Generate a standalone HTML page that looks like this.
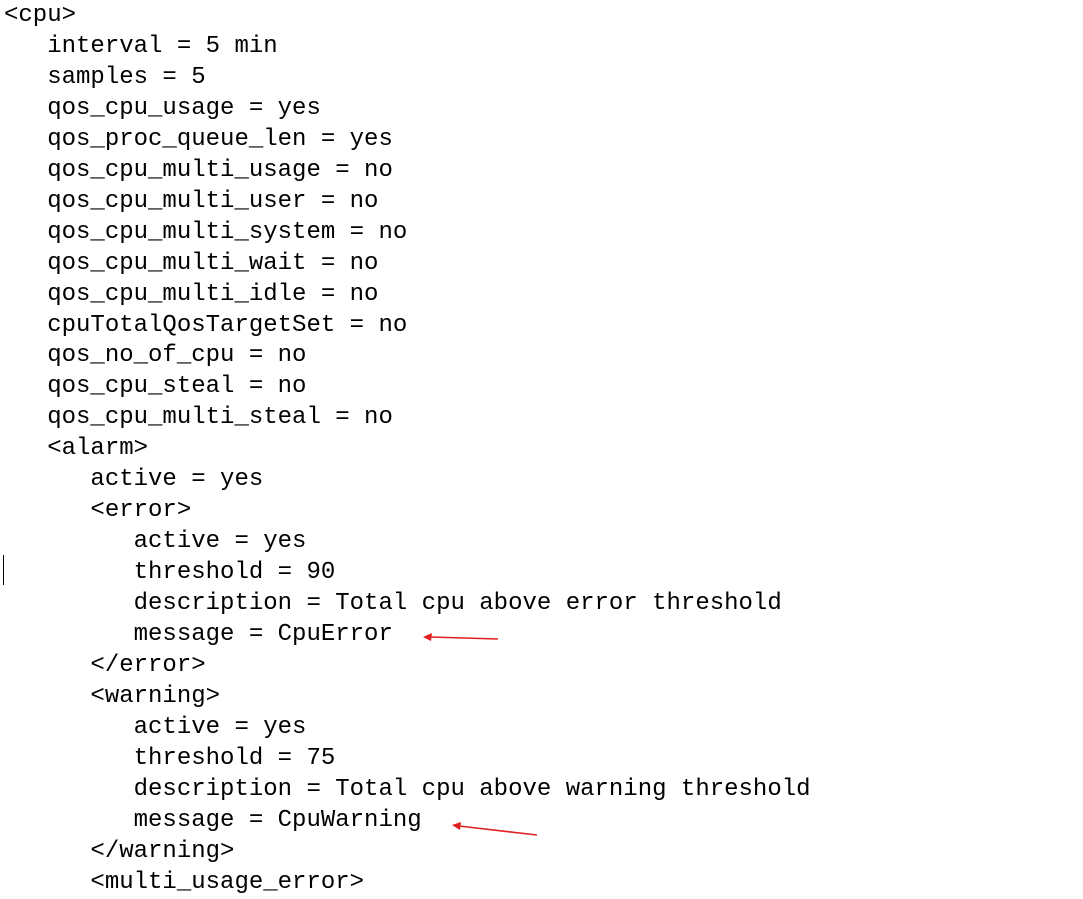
<!DOCTYPE html>
<html><head><style>
html,body{margin:0;padding:0;background:#fff;width:1083px;height:878px;overflow:hidden}
pre{position:absolute;left:4px;top:1px;margin:0;font-family:"Liberation Mono",monospace;font-size:24px;line-height:30.95px;color:#000}
</style></head><body>
<pre>&lt;cpu&gt;
   interval = 5 min
   samples = 5
   qos_cpu_usage = yes
   qos_proc_queue_len = yes
   qos_cpu_multi_usage = no
   qos_cpu_multi_user = no
   qos_cpu_multi_system = no
   qos_cpu_multi_wait = no
   qos_cpu_multi_idle = no
   cpuTotalQosTargetSet = no
   qos_no_of_cpu = no
   qos_cpu_steal = no
   qos_cpu_multi_steal = no
   &lt;alarm&gt;
      active = yes
      &lt;error&gt;
         active = yes
         threshold = 90
         description = Total cpu above error threshold
         message = CpuError
      &lt;/error&gt;
      &lt;warning&gt;
         active = yes
         threshold = 75
         description = Total cpu above warning threshold
         message = CpuWarning
      &lt;/warning&gt;
      &lt;multi_usage_error&gt;</pre>
<svg width="1083" height="878" style="position:absolute;left:0;top:0">
<line x1="3.5" y1="555" x2="3.5" y2="585" stroke="#000" stroke-width="1"/>
<line x1="498" y1="639" x2="430" y2="637" stroke="#e02020" stroke-width="1.6"/>
<polygon points="423,637 432,633 431,641" fill="#e02020"/>
<line x1="537" y1="835" x2="459" y2="826" stroke="#e02020" stroke-width="1.6"/>
<polygon points="452,825 461,822 460,830" fill="#e02020"/>
</svg>
</body></html>
